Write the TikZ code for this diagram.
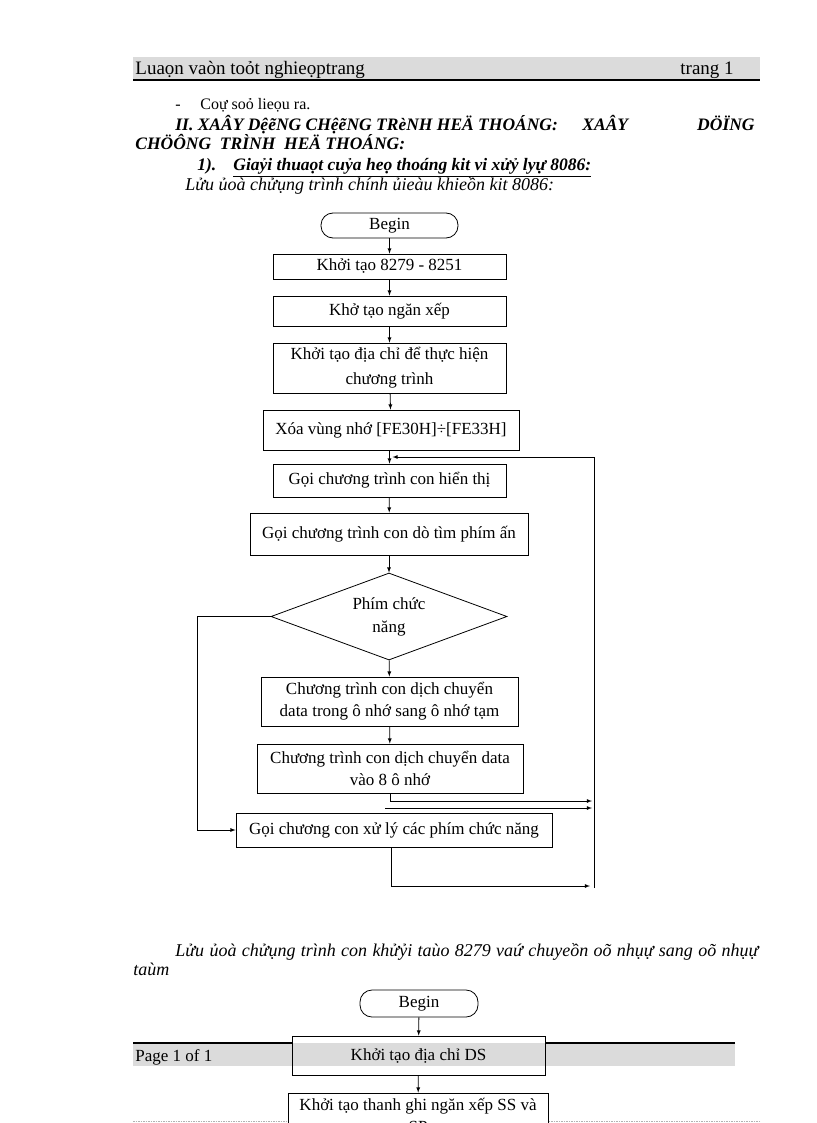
\documentclass[tikz,border=0pt]{standalone}
\usepackage{fontspec}
\setmainfont{Liberation Serif}
\usetikzlibrary{shapes.geometric,positioning}

\begin{document}
\begin{tikzpicture}[x=1pt,y=-1pt,>=latex,line width=0.8pt,
	box/.style={draw,rectangle,inner sep=1pt,align=center,font=\fontsize{17}{22}\selectfont},
	term/.style={box,rounded corners=12pt},
	dec/.style={draw,diamond,aspect=2.7,inner sep=0pt,align=center,font=\fontsize{17}{23}\selectfont},
	band/.style={fill=gray!28,draw=none},
	rule/.style={line width=2.5pt},
	hdr/.style={inner sep=0pt,anchor=base west,font=\fontsize{19}{21}\selectfont},
	txt/.style={inner sep=0pt,anchor=base west,font=\fontsize{16}{18}\selectfont},
	bi/.style={inner sep=0pt,anchor=base west,font=\fontsize{17.5}{19}\selectfont\bfseries\itshape},
	it/.style={inner sep=0pt,anchor=base west,font=\fontsize{18}{19}\selectfont\itshape}]
	\useasboundingbox (0,0) rectangle (816,1123);
	\clip (0,0) rectangle (816,1123);
	\fill[white] (0,0) rectangle (816,1123);

	% page header
	\fill[band] (133,57) rectangle (760,80);
	\draw[rule] (133,80) -- (760,80);
	\node[hdr] (hdrL) at (135,75) {Luaọn vaòn toỏt nghieọptrang};
	\node[hdr] (hdrR) at (680,75) {trang 1};

	% text above the chart
	\node[txt] (dash) at (175,110) {-};
	\node[txt] (item) at (200,110) {Coự soỏ lieọu ra.};
	\node[bi] (h1a) at (175,131) {II. XAÂY DệẽNG CHệẽNG TRèNH HEÄ THOÁNG:};
	\node[bi] (h1b) at (582,131) {XAÂY};
	\node[bi,anchor=base east] (h1c) at (755,131) {DÖÏNG};
	\node[bi] (h2) at (135,150) {CHÖÔNG\ \ TRÌNH\ \ HEÄ THOÁNG:};
	\node[bi] (secnum) at (197,171) {1).};
	\node[bi] (sectitle) at (233,171) {\underline{Giaỷi thuaọt cuỷa heọ thoáng kit vi xửỷ lyự 8086:}};
	\node[it] (cap1) at (185,191) {Lửu ủoà chửụng trình chính ủieàu khieồn kit 8086:};

	% main chart
	\node[term,minimum width=137pt,minimum height=25pt] (begin1) at (389.5,225.5) {Begin};
	\node[box,minimum width=233pt,minimum height=25pt] (init) at (389.5,266.5) {Khởi tạo 8279 - 8251};
	\node[box,minimum width=233pt,minimum height=30pt] (stack) at (389.5,311) {Khở tạo ngăn xếp};
	\node[box,minimum width=233pt,minimum height=50pt] (addr) at (389.5,368) {Khởi tạo địa chỉ để thực hiện\\[3pt] chương trình};
	\node[box,minimum width=256pt,minimum height=40pt] (clear) at (391,430) {Xóa vùng nhớ [FE30H]÷[FE33H]};
	\node[box,minimum width=233pt,minimum height=33pt] (disp) at (389.5,480.5) {Gọi chương trình con hiển thị};
	\node[box,minimum width=278pt,minimum height=42pt] (scan) at (389,534) {Gọi chương trình con dò tìm phím ấn};
	\node[dec,minimum width=236pt,minimum height=87pt] (func) at (389,616.5) {Phím chức\\ năng};
	\node[box,minimum width=257pt,minimum height=49pt] (shift1) at (389.5,701.5) {Chương trình con dịch chuyển\\ data trong ô nhớ sang ô nhớ tạm};
	\node[box,minimum width=266pt,minimum height=49pt] (shift2) at (390,768.5) {Chương trình con dịch chuyển data\\ vào 8 ô nhớ};
	\node[box,minimum width=316pt,minimum height=34pt] (proc) at (394,830) {Gọi chương con xử lý các phím chức năng};

	\coordinate (loopTR) at (594,457);
	\coordinate (loopBR) at (594,888);
	\coordinate (leftX) at (197,616.5);
	\coordinate (ret1) at (592,801);
	\coordinate (ret2s) at (385,808);
	\coordinate (ret2) at (592,808);
	\coordinate (ret3) at (590,886);

	\draw[->] (begin1) -- (init);
	\draw[->] (init) -- (stack);
	\draw[->] (stack) -- (addr);
	\draw[->] (addr) -- (clear);
	\draw[->] (disp.north |- clear.south) -- (disp.north);
	\draw (loopBR) -- (loopTR);
	\draw[->] (loopTR) -- ([xshift=3pt]disp.north |- loopTR);
	\draw[->] (disp) -- (scan);
	\draw[->] (scan) -- (func);
	\draw[->] (func) -- (shift1);
	\draw[->] (shift1) -- (shift2);
	\draw[->] (func.west) -- (leftX) |- (proc.west);
	\draw[->] (shift2.south) |- (ret1);
	\draw[->] (ret2s) -- (ret2);
	\draw[->] ([xshift=-3pt]proc.south) |- (ret3);

	% text below the chart
	\node[it,anchor=north west,text width=625pt,align=justify] (cap2) at (133,943)
		{\hspace*{42pt}Lửu ủoà chửụng trình con khửỷi taùo 8279 vaứ chuyeồn oõ nhụự sang oõ nhụự\linebreak taùm};

	% page footer
	\fill[band] (133,1043) rectangle (735,1066);

	% second chart
	\node[term,minimum width=118pt,minimum height=27pt] (begin2) at (419,1003.5) {Begin};
	\node[box,minimum width=253pt,minimum height=39pt] (ds) at (418.5,1055.5) {Khởi tạo địa chỉ DS};
	\node[box,minimum width=260pt,minimum height=44pt] (ss) at (418,1115) {Khởi tạo thanh ghi ngăn xếp SS và\\ SP};
	\draw[->] (begin2) -- (ds);
	\draw[->] (ds) -- (ss);

	\coordinate (ftL) at (133,1043);
	\coordinate (ftR) at (735,1043);
	\draw[rule] (ftL) -- (ftL -| ds.west);
	\draw[rule] (ftR) -- (ftR -| ds.east);
	\node[txt,font=\fontsize{17}{19}\selectfont] (foot) at (135,1061) {Page 1 of 1};

	% top of the next page header
	\coordinate (nxL) at (133,1121.5);
	\coordinate (nxR) at (760,1121.5);
	\draw[gray!60,densely dotted,line width=1.5pt] (nxL) -- (nxL -| ss.west);
	\draw[gray!60,densely dotted,line width=1.5pt] (nxR) -- (nxR -| ss.east);
\end{tikzpicture}
\end{document}
